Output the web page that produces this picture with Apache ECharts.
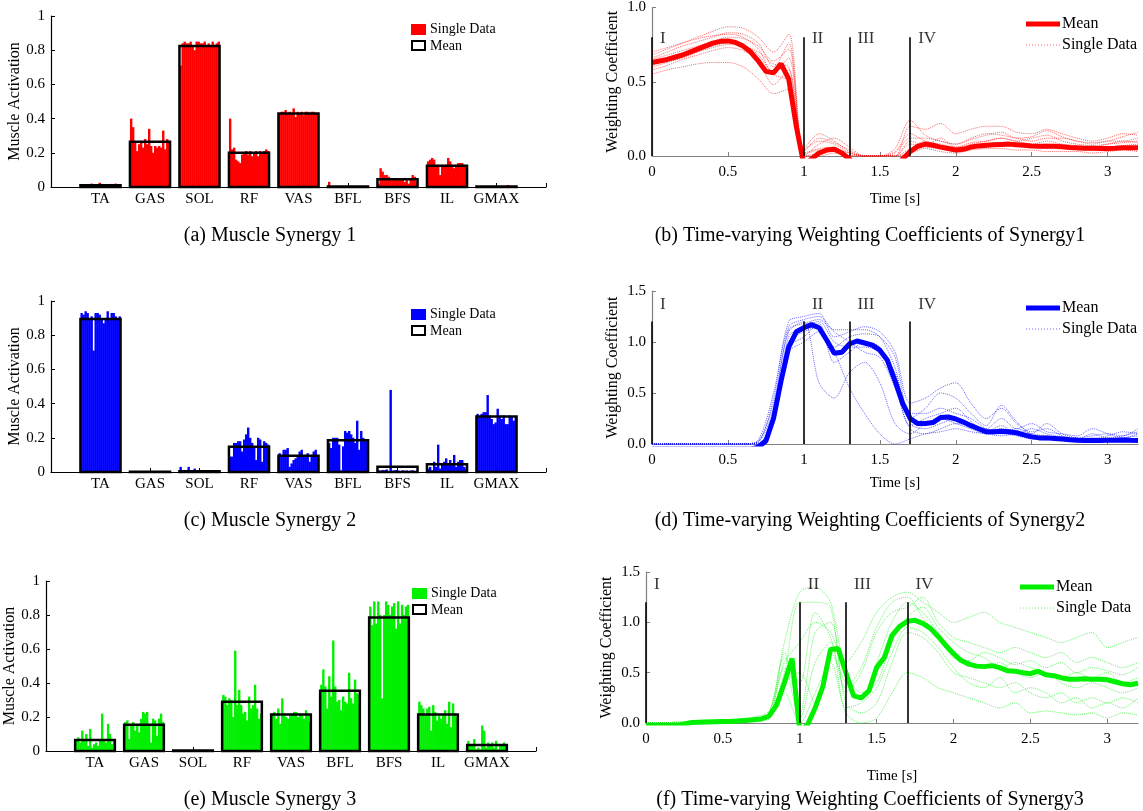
<!DOCTYPE html>
<html>
  <head>
    <meta charset="UTF-8" />
    <title>Muscle Synergy</title>
    <style>
      html, body { margin: 0; padding: 0; background: #fff; }
      #main { width: 1143px; height: 811px; }
    </style>
    <script src="https://cdn.jsdelivr.net/npm/echarts@6/dist/echarts.min.js"></script>
  </head>
  <body>
    <div id="main"></div>
    <script>
      // muscles on the bar panels
      var muscles = ['TA', 'GAS', 'SOL', 'RF', 'VAS', 'BFL', 'BFS', 'IL', 'GMAX'];

      // mean activation per muscle
      var syn1Mean = [0.01, 0.265, 0.825, 0.2, 0.43, 0.003, 0.045, 0.125, 0.003];
      var syn2Mean = [0.895, 0.002, 0.005, 0.148, 0.095, 0.185, 0.03, 0.045, 0.325];
      var syn3Mean = [0.065, 0.155, 0.003, 0.29, 0.215, 0.355, 0.785, 0.215, 0.035];

      // single trials per muscle (20 each)
      var syn1Single = [
        [.01,.012,.008,.015,.01,.02,.012,.01,.008,.025,.01,.015,.012,.008,.018,.012,.01,.02,.01,.008],
        [.40,.35,.27,.21,.25,.27,.23,.28,.25,.34,.24,.20,.24,.23,.24,.23,.33,.22,.28,.27],
        [.71,.84,.85,.84,.84,.85,.83,.80,.85,.85,.84,.84,.85,.83,.84,.82,.85,.83,.84,.85],
        [.40,.22,.23,.16,.15,.14,.19,.20,.21,.19,.21,.18,.20,.21,.18,.21,.20,.21,.22,.21],
        [.43,.44,.44,.45,.43,.44,.43,.46,.41,.44,.43,.44,.42,.44,.44,.43,.44,.44,.43,.43],
        [.03,.002,.001,.002,.001,.003,.001,.002,.001,.001,.002,.001,.001,.002,.001,.001,.002,.001,.001,.002],
        [.02,.11,.09,.07,.07,.06,.05,.04,.05,.05,.04,.05,.05,.03,.04,.02,.05,.07,.06,.03],
        [.15,.16,.17,.16,.12,.13,.07,.13,.12,.13,.17,.15,.13,.11,.13,.14,.14,.14,.13,.12],
        [.002,.003,.002,.004,.002,.003,.002,.002,.003,.002,.004,.003,.002,.003,.002,.012,.003,.002,.002,.003]
      ];
      var syn2Single = [
        [.93,.92,.94,.93,.90,.91,.71,.93,.93,.92,.90,.87,.89,.94,.90,.93,.93,.91,.90,.91],
        [.002,.001,.002,.001,.002,.003,.001,.002,.001,.002,.002,.001,.002,.001,.003,.002,.001,.002,.001,.002],
        [.03,.005,.01,.004,.03,.01,.003,.02,.004,.003,.005,.003,.004,.003,.002,.004,.003,.005,.004,.003],
        [.09,.09,.17,.17,.18,.18,.12,.19,.22,.26,.20,.17,.15,.07,.20,.19,.06,.18,.17,.16],
        [.11,.10,.13,.13,.14,.03,.05,.07,.08,.10,.12,.13,.09,.10,.11,.06,.10,.12,.13,.09],
        [.17,.14,.20,.20,.20,.16,.01,.15,.24,.23,.24,.22,.20,.17,.30,.13,.24,.20,.18,.19],
        [.01,.008,.012,.01,.015,.006,.48,.008,.01,.012,.008,.006,.01,.007,.009,.006,.008,.01,.006,.008],
        [.02,.03,.01,.06,.03,.16,.02,.05,.06,.08,.04,.07,.05,.10,.03,.06,.07,.07,.03,.02],
        [.34,.32,.34,.35,.35,.45,.33,.31,.28,.29,.37,.33,.31,.33,.28,.28,.33,.32,.30,.32]
      ];
      var syn3Single = [
        [.07,.08,.05,.12,.06,.10,.03,.13,.02,.04,.05,.03,.07,.22,.06,.05,.16,.10,.04,.06],
        [.17,.18,.07,.15,.17,.12,.16,.11,.19,.23,.22,.23,.16,.05,.19,.18,.09,.19,.22,.17],
        [.002,.001,.003,.001,.002,.001,.002,.001,.002,.003,.001,.002,.001,.002,.001,.002,.001,.002,.001,.002],
        [.33,.32,.27,.31,.30,.20,.59,.27,.36,.27,.22,.23,.18,.32,.25,.27,.39,.25,.19,.22],
        [.22,.23,.19,.25,.16,.31,.22,.20,.19,.21,.22,.23,.23,.20,.22,.21,.19,.24,.21,.17],
        [.39,.48,.38,.25,.44,.32,.65,.38,.29,.30,.24,.32,.29,.28,.46,.31,.28,.42,.34,.33],
        [.85,.74,.88,.75,.88,.80,.31,.80,.88,.86,.80,.85,.87,.72,.88,.75,.86,.80,.85,.86],
        [.29,.27,.25,.21,.25,.26,.12,.27,.23,.18,.21,.19,.22,.24,.16,.29,.14,.28,.22,.20],
        [.06,.04,.03,.07,.01,.02,.01,.15,.12,.02,.05,.03,.05,.02,.06,.01,.03,.04,.05,.03]
      ];

      // time bases [s]
      var timeFine = [0,0.05,0.1,0.15,0.2,0.25,0.3,0.35,0.4,0.45,0.5,0.55,0.6,0.65,0.7,0.75,0.8,0.85,0.9,0.95,
        1,1.05,1.1,1.15,1.2,1.25,1.3,1.35,1.4,1.45,1.5,1.55,1.6,1.65,1.7,1.75,1.8,1.85,1.9,1.95,
        2,2.05,2.1,2.15,2.2,2.25,2.3,2.35,2.4,2.45,2.5,2.55,2.6,2.65,2.7,2.75,2.8,2.85,2.9,2.95,
        3,3.05,3.1,3.15,3.2];
      var timeCoarse = [0,0.1,0.2,0.3,0.4,0.5,0.6,0.7,0.8,0.9,1,
        1.1,1.2,1.3,1.4,1.5,1.6,1.7,1.8,1.9,2,2.1,
        2.2,2.3,2.4,2.5,2.6,2.7,2.8,2.9,3,3.1,3.2];

      // mean weighting coefficient (timeFine), below 0 = hidden under axis
      var w1Mean = [0.63,0.64,0.65,0.665,0.68,0.70,0.72,0.74,0.76,0.772,0.775,0.765,0.74,0.70,0.64,0.57,0.56,0.62,0.52,0.20,
        -0.06,-0.02,0.02,0.04,0.045,0.02,-0.02,-0.08,-0.1,-0.1,-0.1,-0.1,-0.08,-0.02,0.03,0.065,0.08,0.072,0.06,0.05,
        0.04,0.045,0.06,0.068,0.072,0.075,0.078,0.08,0.076,0.072,0.068,0.065,0.066,0.065,0.062,0.058,0.055,0.053,0.052,0.05,
        0.05,0.052,0.055,0.056,0.055];
      var w2Mean = [-0.05,-0.05,-0.05,-0.05,-0.05,-0.05,-0.05,-0.05,-0.05,-0.05,-0.05,-0.05,-0.05,-0.05,-0.03,0.03,0.25,0.62,0.95,1.10,
        1.14,1.17,1.14,1.02,0.89,0.90,0.98,1.01,0.99,0.97,0.92,0.82,0.62,0.40,0.25,0.20,0.20,0.21,0.26,0.265,
        0.245,0.215,0.18,0.15,0.12,0.12,0.125,0.12,0.11,0.09,0.07,0.06,0.06,0.055,0.05,0.042,0.036,0.035,0.035,0.035,
        0.036,0.036,0.04,0.036,0.035];
      var w3Mean = [-0.03,-0.03,-0.03,-0.03,-0.03,-0.01,0.005,0.008,0.01,0.012,0.014,0.016,0.02,0.026,0.032,0.04,0.07,0.18,0.40,0.64,
        -0.08,-0.02,0.15,0.36,0.73,0.74,0.50,0.27,0.25,0.32,0.55,0.65,0.87,0.96,1.01,1.02,0.99,0.94,0.86,0.77,
        0.69,0.62,0.585,0.565,0.56,0.57,0.55,0.52,0.515,0.50,0.49,0.515,0.48,0.47,0.45,0.435,0.435,0.44,0.435,0.435,
        0.43,0.41,0.39,0.38,0.395];

      // single trials (timeCoarse)
      var w1Single = [
        [.68,.72,.76,.80,.84,.87,.86,.80,.70,.82,.05, .15,.10,.03,0,0,0,.20,.18,.22,.15,.18, .20,.20,.16,.15,.18,.15,.12,.10,.12,.15,.14],
        [.60,.63,.66,.70,.73,.75,.74,.70,.62,.60,0, .08,.12,.06,0,0,.02,.12,.12,.10,.08,.12, .15,.14,.12,.10,.12,.12,.10,.08,.10,.10,.12],
        [.55,.58,.60,.62,.63,.63,.60,.52,.42,.45,0, .02,.05,.02,0,0,0,.05,.10,.06,.05,.08, .10,.12,.10,.08,.10,.08,.07,.06,.08,.09,.10],
        [.65,.68,.71,.74,.77,.80,.79,.74,.64,.72,.02, .05,.06,0,0,0,0,.08,.06,.05,.03,.06, .06,.08,.07,.06,.05,.05,.04,.04,.05,.06,.05],
        [.62,.65,.68,.71,.74,.76,.75,.68,.55,.50,0, 0,.02,0,0,0,0,.02,.05,.03,.02,.04, .05,.05,.04,.04,.03,.03,.03,.02,.03,.04,.03],
        [.70,.73,.76,.79,.81,.82,.80,.72,.56,.66,.04, .10,.08,.02,0,0,.03,.15,.10,.08,.06,.09, .10,.12,.10,.12,.14,.10,.08,.07,.08,.10,.09],
        [.58,.61,.65,.68,.71,.73,.71,.64,.48,.58,.01, .04,.03,0,0,0,0,.10,.07,.12,.06,.07, .08,.09,.08,.07,.08,.07,.06,.05,.06,.07,.08],
        [.66,.70,.74,.77,.80,.83,.82,.76,.60,.76,.03, .12,.09,.04,0,0,.05,.24,.14,.10,.08,.11, .14,.16,.12,.13,.17,.13,.10,.09,.10,.13,.16]
      ];
      var w2Single = [
        [0,0,0,0,0,0,0,.02,.45,1.20,1.25, 1.28,1.05,1.10,1.15,1.10,.90,.40,.45,.55,.60,.40, .25,.35,.20,.12,.15,.08,.06,.08,.10,.08,.15],
        [0,0,0,0,0,0,0,0,.30,1.00,1.10, 1.15,.95,1.05,1.08,1.05,.85,.30,.30,.35,.30,.25, .15,.12,.15,.10,.08,.06,.05,.06,.05,.06,.08],
        [0,0,0,0,0,0,0,.03,.40,1.10,1.20, .60,.45,.70,.80,.60,.20,.10,.20,.25,.20,.15, .10,.10,.08,.05,.05,.04,.04,.03,.04,.05,.04],
        [0,0,0,0,0,0,0,.01,.20,.90,1.00, 1.10,.90,.55,.30,.10,0,.05,.10,.12,.15,.12, .10,.08,.10,.06,.04,.04,.03,.03,.04,.03,.04],
        [0,0,0,0,0,0,0,0,.25,1.05,1.15, 1.20,1.00,.95,.95,.90,.70,.20,.15,.20,.25,.20, .15,.25,.15,.20,.12,.10,.08,.15,.10,.06,.10],
        [0,0,0,0,0,0,0,.04,.50,1.15,1.22, 1.25,1.10,1.00,.90,.85,.55,.15,.10,.15,.20,.18, .12,.15,.12,.08,.06,.05,.04,.04,.03,.04,.05],
        [0,0,0,0,0,0,0,.02,.35,1.12,1.18, 1.22,1.12,1.12,1.12,1.05,.75,.25,.35,.50,.45,.30, .18,.38,.22,.10,.20,.10,.06,.05,.08,.12,.10],
        [0,0,0,0,0,0,0,0,.28,.95,1.05, 1.18,.80,.90,1.00,.95,.60,.18,.25,.30,.35,.22, .12,.18,.10,.15,.10,.07,.05,.10,.06,.08,.12]
      ];
      var w3Single = [
        [0,0,0,.02,.03,.03,.04,.05,.10,.80,1.30, 1.35,1.20,.60,.80,1.10,1.25,1.30,1.20,1.10,1.00,1.05, 1.10,1.00,.95,.90,.85,.80,.85,.90,.75,.80,.85],
        [0,0,0,.01,.02,.02,.03,.04,.08,.50,1.20, 1.20,1.15,.30,.50,.90,1.10,1.15,1.25,1.00,.85,.80, .75,.70,.75,.70,.65,.70,.60,.65,.60,.55,.60],
        [0,0,0,0,.01,.01,.02,.03,.06,.40,.50, .20,.70,.40,.25,.60,1.00,1.20,1.10,.90,.70,.60, .55,.60,.50,.45,.50,.40,.35,.40,.35,.30,.35],
        [0,0,.01,.01,.01,.02,.02,.03,.05,.70,.10, .90,1.00,.20,.10,.20,.60,.90,.85,.70,.50,.45, .40,.35,.40,.30,.25,.30,.20,.25,.20,.25,.20],
        [0,0,0,0,.01,.01,.01,.02,.04,.30,0, .30,.60,.10,0,.05,.30,.50,.45,.35,.30,.25, .20,.15,.20,.10,.12,.10,.08,.10,.05,.10,.08],
        [0,0,0,.02,.02,.03,.04,.06,.12,.60,.80, 1.00,.90,.50,.30,.40,.80,1.05,1.15,.95,.80,.70, .65,.55,.60,.55,.50,.45,.50,.45,.50,.40,.45],
        [0,0,0,.01,.02,.03,.03,.04,.09,.65,.40, 1.10,.85,.35,.55,.95,1.20,1.25,1.05,.85,.65,.62, .70,.65,.58,.62,.55,.60,.50,.55,.52,.48,.55],
        [0,0,0,0,.01,.02,.02,.03,.07,.55,.05, .60,.80,.15,.20,.35,.70,.95,.90,.75,.55,.40, .35,.45,.30,.35,.30,.20,.25,.15,.20,.15,.25]
      ];

      // gait phase boundaries
      var phaseTimes = [0, 1.0, 1.3, 1.7];
      var phaseLabels = ['I', 'II', 'III', 'IV'];

      var FONT = 'Liberation Serif';
      var BAR_W = 0.81;

      var myChart = echarts.init(document.getElementById('main'));

      var grids = [], xAxes = [], yAxes = [], series = [], titles = [], graphics = [];

      // bar panel: singles as thin bars, mean as black outline
      function barPanel(grid, singles, means, color, caption, legend) {
        var idx = grids.length;
        grids.push(grid);
        xAxes.push({
          gridIndex: idx, type: 'value', min: 0, max: 10, interval: 1,
          axisLine: { lineStyle: { color: '#000', width: 1.2 } },
          axisTick: { inside: true, length: 4, lineStyle: { color: '#000' } },
          splitLine: { show: false },
          axisLabel: {
            margin: 5, fontSize: 15, fontFamily: FONT, color: '#000',
            formatter: function (v) { return v >= 1 && v <= 9 ? muscles[v - 1] : ''; }
          }
        });
        yAxes.push({
          gridIndex: idx, type: 'value', min: 0, max: 1, interval: 0.2,
          name: 'Muscle Activation', nameLocation: 'middle', nameGap: 27,
          nameTextStyle: { fontSize: 16, fontFamily: FONT, color: '#000' },
          axisLine: { show: true, lineStyle: { color: '#000', width: 1.2 } },
          axisTick: { show: true, inside: true, length: 4, lineStyle: { color: '#000' } },
          splitLine: { show: false },
          axisLabel: { margin: 6, fontSize: 15, fontFamily: FONT, color: '#000' }
        });
        var n = singles[0].length;
        var sData = [];
        singles.forEach(function (arr, m) {
          arr.forEach(function (v, j) { sData.push([m + 1, j, v]); });
        });
        series.push({
          type: 'custom', xAxisIndex: idx, yAxisIndex: idx, itemStyle: { color: color },
          encode: { x: 0, y: 2 }, data: sData, silent: true,
          renderItem: function (params, api) {
            var x0 = api.value(0) - BAR_W / 2 + api.value(1) * BAR_W / n;
            var p0 = api.coord([x0, api.value(2)]);
            var p1 = api.coord([x0 + BAR_W / n, 0]);
            return { type: 'rect', shape: { x: p0[0], y: p0[1], width: p1[0] - p0[0] + 0.4, height: p1[1] - p0[1] },
              style: { fill: color } };
          }
        });
        series.push({
          type: 'custom', xAxisIndex: idx, yAxisIndex: idx, z: 5, silent: true,
          encode: { x: 0, y: 1 },
          data: means.map(function (v, m) { return [m + 1, v]; }),
          renderItem: function (params, api) {
            var p0 = api.coord([api.value(0) - BAR_W / 2, api.value(1)]);
            var p1 = api.coord([api.value(0) + BAR_W / 2, 0]);
            return { type: 'rect', shape: { x: p0[0], y: p0[1], width: p1[0] - p0[0], height: p1[1] - p0[1] },
              style: { fill: 'none', stroke: '#000', lineWidth: 2.5 } };
          }
        });
        titles.push(caption);
        // legend
        graphics.push(
          { type: 'rect', shape: { x: legend.x, y: legend.y - 5, width: 15, height: 11 }, style: { fill: color } },
          { type: 'rect', shape: { x: legend.x + 1, y: legend.y + 12, width: 13, height: 9 }, style: { fill: '#fff', stroke: '#000', lineWidth: 2 } },
          { type: 'text', x: legend.x + 19, y: legend.y, style: { text: 'Single Data', font: '14px "Liberation Serif"', fill: '#000', verticalAlign: 'middle', textVerticalAlign: 'middle' } },
          { type: 'text', x: legend.x + 19, y: legend.y + 17, style: { text: 'Mean', font: '14px "Liberation Serif"', fill: '#000', verticalAlign: 'middle', textVerticalAlign: 'middle' } }
        );
      }

      // line panel: dotted singles, thick mean, phase lines
      function linePanel(grid, ymax, singles, mean, color, lineTop, labelY, nameGap, caption, legend) {
        var idx = grids.length;
        grids.push(grid);
        xAxes.push({
          gridIndex: idx, type: 'value', min: 0, max: 3.2, interval: 0.5,
          name: 'Time [s]', nameLocation: 'middle', nameGap: nameGap,
          nameTextStyle: { fontSize: 15, fontFamily: FONT, color: '#000' },
          axisLine: { lineStyle: { color: '#808080', width: 1.2 } },
          axisTick: { inside: true, length: 4, lineStyle: { color: '#808080' } },
          splitLine: { show: false },
          axisLabel: { margin: 9, fontSize: 15, fontFamily: FONT, color: '#000', showMaxLabel: false }
        });
        yAxes.push({
          gridIndex: idx, type: 'value', min: 0, max: ymax, interval: 0.5,
          name: 'Weighting Coefficient', nameLocation: 'middle', nameGap: 31,
          nameTextStyle: { fontSize: 16, fontFamily: FONT, color: '#000' },
          axisLine: { show: true, lineStyle: { color: '#808080', width: 1.2 } },
          axisTick: { show: true, inside: true, length: 4, lineStyle: { color: '#808080' } },
          splitLine: { show: false },
          axisLabel: { margin: 6, fontSize: 15, fontFamily: FONT, color: '#000',
            formatter: function (v) { return v.toFixed(1); } }
        });
        singles.forEach(function (arr) {
          series.push({
            type: 'line', xAxisIndex: idx, yAxisIndex: idx, symbol: 'none', smooth: 0.3, silent: true,
            lineStyle: { color: color, width: 1, type: 'dotted', opacity: 0.6 },
            data: timeCoarse.map(function (t, i) { return [t, arr[i]]; })
          });
        });
        series.push({
          type: 'line', xAxisIndex: idx, yAxisIndex: idx, symbol: 'none', silent: true, z: 4,
          lineStyle: { color: color, width: 5 },
          data: timeFine.map(function (t, i) { return [t, mean[i]]; })
        });
        series.push({
          type: 'scatter', xAxisIndex: idx, yAxisIndex: idx, symbolSize: 0, silent: true, z: 6,
          data: phaseTimes.map(function (t) { return [t, labelY]; }),
          label: { show: true, position: 'right', distance: 8, fontSize: 17, fontFamily: FONT, color: '#000',
            formatter: function (p) { return phaseLabels[p.dataIndex]; } },
          markLine: {
            silent: true, symbol: ['none', 'none'], animation: false,
            label: { show: false },
            lineStyle: { color: '#000', width: 1.6, type: 'solid' },
            data: phaseTimes.map(function (t) { return [{ coord: [t, 0] }, { coord: [t, lineTop] }]; })
          }
        });
        titles.push(caption);
        graphics.push(
          { type: 'line', shape: { x1: legend.x, y1: legend.y, x2: legend.x + 34, y2: legend.y }, style: { stroke: color, lineWidth: 5 } },
          { type: 'line', shape: { x1: legend.x, y1: legend.y + 21, x2: legend.x + 34, y2: legend.y + 21 }, style: { stroke: color, lineWidth: 1, lineDash: [1, 2], opacity: 0.6 } },
          { type: 'text', x: legend.x + 36, y: legend.y, style: { text: 'Mean', font: '16px "Liberation Serif"', fill: '#000', verticalAlign: 'middle', textVerticalAlign: 'middle' } },
          { type: 'text', x: legend.x + 36, y: legend.y + 21, style: { text: 'Single Data', font: '16px "Liberation Serif"', fill: '#000', verticalAlign: 'middle', textVerticalAlign: 'middle' } }
        );
      }

      function cap(text, cx, cy) {
        return { text: text, left: cx, top: cy - 8, textAlign: 'center', padding: 0,
          textStyle: { fontSize: 20, fontWeight: 'normal', fontFamily: FONT, color: '#000' } };
      }

      barPanel({ left: 51, top: 16, width: 495, height: 171 }, syn1Single, syn1Mean, '#ff0000',
        cap('(a) Muscle Synergy 1', 270, 234), { x: 411, y: 29 });
      linePanel({ left: 652, top: 7, width: 486, height: 149 }, 1.0, w1Single, w1Mean, '#ff0000', 0.8, 0.79, 36,
        cap('(b) Time-varying Weighting Coefficients of Synergy1', 870, 234), { x: 1026, y: 24 });
      barPanel({ left: 51, top: 301, width: 495, height: 171 }, syn2Single, syn2Mean, '#0000ff',
        cap('(c) Muscle Synergy 2', 270, 519), { x: 411, y: 314 });
      linePanel({ left: 652, top: 291, width: 486, height: 153 }, 1.5, w2Single, w2Mean, '#0000ff', 1.2, 1.37, 32,
        cap('(d) Time-varying Weighting Coefficients of Synergy2', 870, 519), { x: 1026, y: 308 });
      barPanel({ left: 46, top: 581, width: 490, height: 170 }, syn3Single, syn3Mean, '#00f000',
        cap('(e) Muscle Synergy 3', 270, 798), { x: 412, y: 593 });
      linePanel({ left: 646, top: 572, width: 492, height: 151 }, 1.5, w3Single, w3Mean, '#00f000', 1.2, 1.38, 46,
        cap('(f) Time-varying Weighting Coefficients of Synergy3', 870, 798), { x: 1020, y: 587 });

      myChart.setOption({
        animation: false,
        backgroundColor: '#fff',
        textStyle: { fontFamily: FONT },
        title: titles,
        grid: grids,
        xAxis: xAxes,
        yAxis: yAxes,
        series: series,
        graphic: graphics
      });
    </script>
  </body>
</html>
